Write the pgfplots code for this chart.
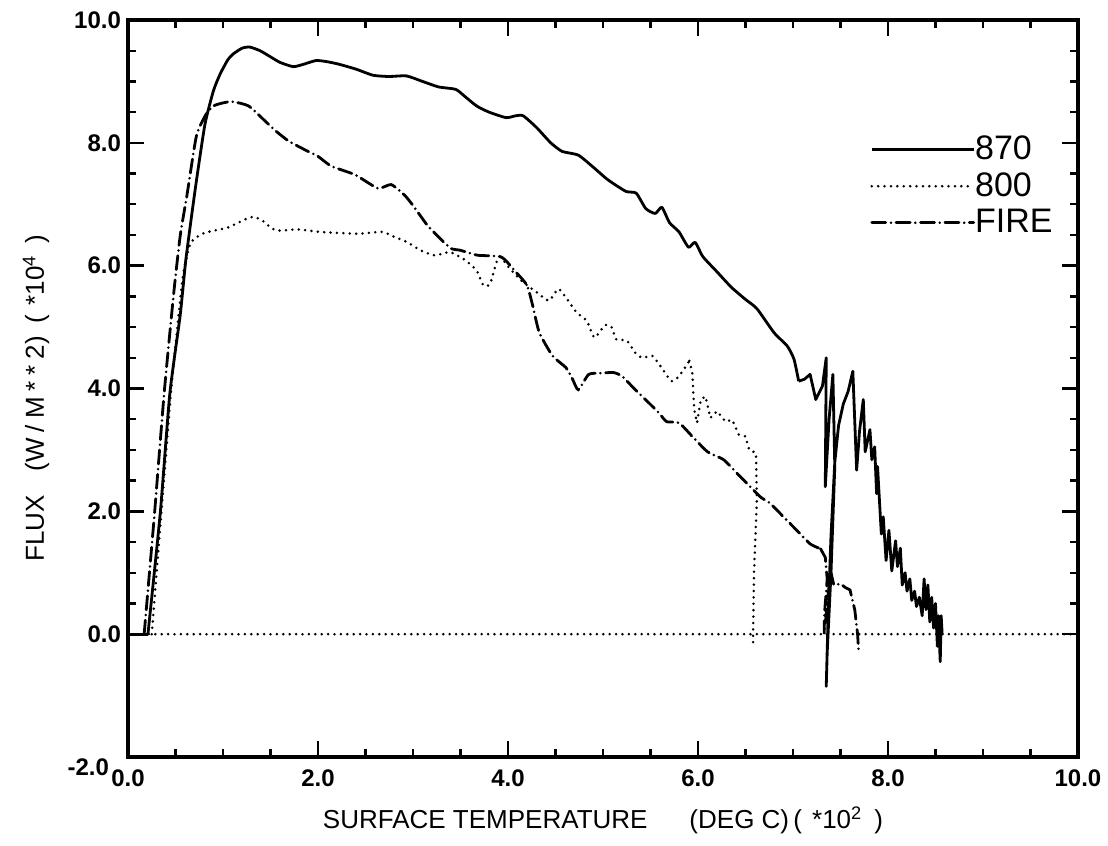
\documentclass[border=0pt]{standalone}
\usepackage{fontspec}
\setmainfont{Liberation Sans}
\usepackage{pgfplots}
\pgfplotsset{compat=1.18}

\tikzset{
  dotline/.style={line width=1.4pt, line cap=round, dash pattern=on 0pt off 3.2pt},
  dashdot/.style={line width=1.4pt, line cap=round, dash pattern=on 7pt off 2.6pt on 0pt off 2.6pt},
  solidline/.style={line width=1.4pt, line join=round},
}

\begin{document}
\begin{tikzpicture}
\begin{axis}[
  name=ax,
  scale only axis,
  width=475pt, height=368.5pt,
  xmin=0, xmax=10, ymin=-2, ymax=10,
  xtick={0,2,...,10}, ytick={0,2,...,10},
  extra y ticks={-2},
  extra y tick style={yticklabel style={xshift=-6pt, yshift=-5pt}},
  minor tick num=3,
  tick align=inside,
  major tick length=8pt, minor tick length=4pt,
  tick style={line width=1.2pt, black},
  axis line style={line width=1.6pt},
  tick label style={font=\bfseries\fontsize{12}{12}\selectfont},
  xticklabel style={yshift=-3pt},
  /pgf/number format/fixed,
  /pgf/number format/fixed zerofill,
  /pgf/number format/precision=1,
  /pgf/number format/assume math mode=true,
  xlabel={SURFACE TEMPERATURE\hspace{21pt}(DEG C)\,(\hspace{5pt}*10\textsuperscript{2}\hspace{6pt})},
  xlabel style={at={(axis description cs:0.5,-0.0855)}, anchor=center, font=\fontsize{13}{13}\selectfont},
  ylabel={FLUX\hspace{12pt}(W\hspace{3pt}/\hspace{3pt}M\hspace{3pt}*\hspace{3pt}*\hspace{3pt}2)\hspace{6pt}(\hspace{5pt}*10\textsuperscript{4}\hspace{6pt})},
  ylabel style={at={(axis description cs:-0.0968,0.487)}, anchor=center, font=\fontsize{13}{13}\selectfont},
  legend style={at={(axis description cs:0.781,0.843)}, anchor=north west, draw=none, fill=none,
    inner sep=0pt, row sep=5pt, column sep=0pt, font=\fontsize{17}{17}\selectfont,
    nodes={inner sep=0pt}},
  legend cell align=left,
  legend image code/.code={\draw[#1] (0pt,0pt) -- (51pt,0pt);},
]
% 870, smooth part
\addplot[solidline, smooth, tension=0.35] coordinates {
(0.21,0)(0.34,1.98)(0.44,3.91)(0.55,5.2)(0.61,6.11)(0.71,7.27)(0.81,8.3)(0.90,8.85)
(0.97,9.12)(1.05,9.35)(1.11,9.45)(1.2,9.54)(1.28,9.56)(1.39,9.5)(1.5,9.4)(1.6,9.31)(1.74,9.24)
(1.85,9.28)(1.98,9.34)(2.1,9.32)(2.22,9.28)(2.4,9.2)(2.58,9.1)(2.75,9.08)(2.93,9.09)(3.1,9.0)
(3.27,8.91)(3.45,8.87)(3.55,8.75)(3.67,8.6)(3.8,8.5)(3.98,8.41)(4.08,8.44)(4.16,8.44)(4.3,8.25)
(4.45,8.0)(4.57,7.86)(4.74,7.8)(4.9,7.6)(5.05,7.4)(5.24,7.21)(5.35,7.18)(5.45,6.93)(5.55,6.85)
(5.62,6.95)(5.7,6.7)(5.8,6.55)(5.9,6.3)(5.97,6.38)(6.05,6.15)(6.2,5.9)(6.35,5.65)(6.5,5.45)
(6.62,5.3)(6.8,4.91)(6.94,4.69)(7.01,4.48)(7.06,4.12)
};
\addlegendentry{870}
% 870, start and noisy end
\addplot[solidline, forget plot] coordinates {(0,0)(0.21,0)};
\addplot[solidline, forget plot] coordinates {
(7.06,4.12)(7.12,4.15)(7.18,4.23)(7.24,3.82)(7.31,4.04)
(7.35,4.5)(7.34,2.4)(7.38,3.5)(7.42,4.23)(7.44,2.73)(7.40,1.0)(7.36,-0.3)(7.35,-0.85)(7.37,0.3)
(7.40,1.6)(7.44,2.8)(7.48,3.4)(7.53,3.75)(7.58,3.95)(7.63,4.28)(7.67,2.67)(7.70,3.3)(7.74,3.82)
(7.76,2.97)(7.81,3.33)(7.83,2.84)(7.86,3.05)(7.88,2.29)(7.89,2.73)(7.93,1.63)(7.95,1.91)(7.98,1.2)
(8.01,1.69)(8.04,1.03)(8.08,1.52)(8.10,1.1)(8.13,1.4)(8.15,0.8)(8.18,1.0)(8.2,0.7)(8.23,0.9)
(8.25,0.55)(8.28,0.7)(8.3,0.45)(8.33,0.6)(8.36,0.3)(8.38,0.9)(8.40,0.4)(8.42,0.8)(8.44,0.2)
(8.46,0.6)(8.48,0.1)(8.5,0.5)(8.52,-0.2)(8.53,0.3)(8.55,-0.45)(8.56,0.3)(8.57,0.0)
};
% 800
\addplot[dotline, smooth, tension=0.35] coordinates {
(0.25,0)(0.35,1.95)(0.45,3.9)(0.52,5.0)(0.58,5.85)(0.66,6.37)(0.8,6.53)(1.05,6.62)(1.29,6.79)
(1.4,6.75)(1.52,6.6)(1.61,6.57)(1.78,6.59)(2.02,6.55)(2.25,6.53)(2.44,6.52)(2.68,6.55)(2.8,6.47)
(2.93,6.39)(3.08,6.25)(3.21,6.17)(3.25,6.17)(3.39,6.22)(3.55,6.09)(3.67,5.92)(3.74,5.68)(3.81,5.7)
(3.88,6.06)(3.92,6.14)(4.02,5.95)(4.16,5.73)(4.3,5.57)(4.43,5.43)(4.53,5.62)(4.62,5.46)(4.72,5.24)
(4.83,5.1)(4.91,4.83)(5.02,5.03)(5.09,5.0)(5.14,4.8)(5.25,4.78)(5.35,4.56)(5.42,4.5)(5.52,4.53)
(5.63,4.31)(5.72,4.12)(5.8,4.2)(5.91,4.45)
};
\addlegendentry{800}
\addplot[dotline, forget plot] coordinates {
(5.91,4.45)(5.94,4.26)(5.96,3.66)(5.99,3.44)(6.03,3.82)(6.08,3.87)
(6.13,3.52)(6.2,3.63)(6.29,3.46)(6.36,3.49)(6.43,3.25)(6.5,3.22)(6.54,3.0)(6.61,2.95)(6.62,2.2)
(6.59,1.0)(6.58,0.0)(6.58,-0.2)
};
% FIRE
\addplot[dashdot, smooth, tension=0.35] coordinates {
(0.17,0)(0.28,1.98)(0.38,3.91)(0.48,5.53)(0.55,6.49)(0.62,7.14)(0.72,8.11)(0.82,8.46)(0.9,8.6)
(1.0,8.65)(1.1,8.67)(1.27,8.6)(1.44,8.36)(1.55,8.2)(1.69,8.03)(1.87,7.88)(2.0,7.78)(2.14,7.62)
(2.39,7.48)(2.63,7.26)(2.77,7.32)(2.91,7.15)(3.0,6.98)(3.15,6.66)(3.28,6.45)(3.40,6.28)(3.5,6.25)
(3.68,6.17)(3.93,6.14)(4.08,5.9)(4.2,5.68)(4.26,5.35)(4.33,4.91)(4.47,4.53)(4.61,4.34)(4.68,4.15)
(4.74,3.98)(4.85,4.23)(4.99,4.25)(5.11,4.26)(5.2,4.2)(5.34,3.98)(5.48,3.77)(5.59,3.6)(5.67,3.46)
(5.8,3.44)(5.94,3.22)(6.10,2.97)(6.27,2.84)(6.41,2.62)(6.55,2.4)(6.66,2.23)(6.76,2.13)(6.9,1.91)
(7.04,1.69)(7.18,1.47)(7.29,1.39)
};
\addlegendentry{FIRE}
\addplot[dashdot, forget plot] coordinates {
(7.29,1.39)(7.34,1.25)(7.36,0.9)(7.33,0.3)(7.33,0.0)(7.37,0.65)(7.40,1.0)
(7.43,0.8)(7.5,0.82)(7.55,0.76)(7.6,0.72)(7.65,0.4)(7.68,0.0)(7.69,-0.25)
};
% zero line
\addplot[dotline, forget plot] coordinates {(0.22,0)(10,0)};
\end{axis}
\path (ax.south west) ++(-64pt,-44.5pt);
\path (ax.north east) ++(15pt,10pt);
\end{tikzpicture}
\end{document}
